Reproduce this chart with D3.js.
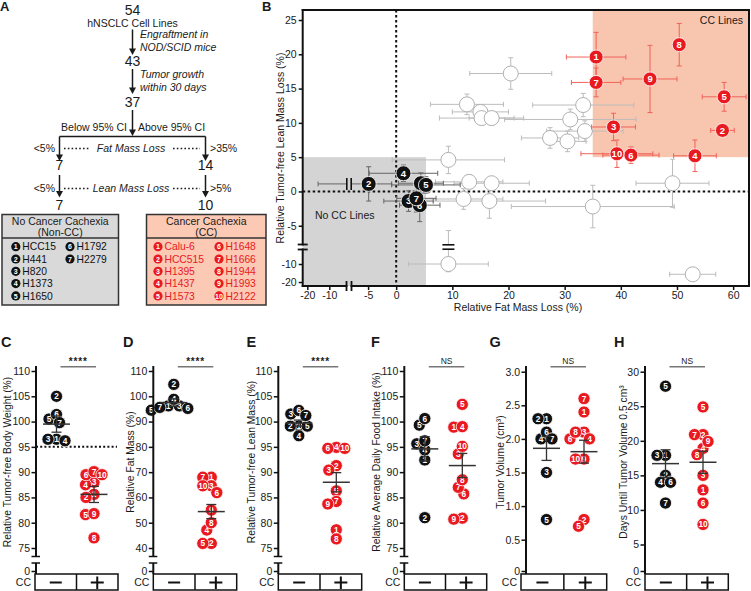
<!DOCTYPE html>
<html><head><meta charset="utf-8">
<script src="https://cdn.jsdelivr.net/npm/d3@7"></script>
<style>
body{margin:0;background:#fff;}
svg{display:block;font-family:Arial,"Liberation Sans",Helvetica,sans-serif;}
</style></head><body>
<svg id="chart" width="751" height="591"></svg>
<script>
// ================= DATA =================
// Panel A flow chart
const flowCounts = [54, 43, 37];
const flowSteps = [["Engraftment in", "NOD/SCID mice"], ["Tumor growth", "within 30 days"]];
const splitLabels = ["Below 95% CI", "Above 95% CI"];
const criteria = ["Fat Mass Loss", "Lean Mass Loss"];
const leftThresholds = ["<5%", "<5%"];
const rightThresholds = [">35%", ">5%"];
const leftCounts = [7, 7];
const rightCounts = [14, 10];
const nonCcLines = ["HCC15", "H441", "H820", "H1373", "H1650", "H1792", "H2279"];
const ccLines = ["Calu-6", "HCC515", "H1395", "H1437", "H1573", "H1648", "H1666", "H1944", "H1993", "H2122"];

// Panel B: relative fat mass loss (x) vs tumor-free lean mass loss (y), with errors
const ccX    = [35.6, 58.1, 38.7, 53.2, 58.4, 41.8, 35.6, 50.4, 45.2, 39.3];
const ccY    = [19.6, 8.9, 9.4, 5.2, 13.8, 5.3, 15.9, 21.4, 16.4, 5.5];
const ccXErr = [5.3, 2.1, 3.9, 3.8, 3.9, 5.0, 4.4, 0.6, 4.8, 6.4];
const ccYErr = [3.6, 0.6, 2.0, 2.3, 2.1, 1.2, 2.1, 3.1, 4.9, 2.0];
const nonCcX      = [4.4, -4.9, 2.2, 1.3, 5.3, 4.2, 3.6];
const nonCcY      = [1.2, 1.1, -1.4, 2.65, 0.95, -2.0, -1.0];
const nonCcXErrLo = [4.0, 10.2, 4.4, 6.1, 6.1, 3.6, 3.5];
const nonCcXErrHi = [4.0, 4.1, 4.4, 6.1, 6.1, 3.6, 3.5];
const nonCcYErr   = [1.5, 2.5, 1.5, 1.2, 1.2, 2.4, 2.0];
const otherX    = [20.4, 33.3, 31.0, 33.6, 27.4, 30.5, 12.6, 15.0, 15.2, 17.0, 13.0, 17.0, 49.2, 16.6, 35.0, 52.8, 9.3, 9.3, 12.0];
const otherY    = [17.2, 12.6, 10.5, 8.8, 7.8, 7.3, 12.7, 11.6, 10.7, 10.7, 1.4, 1.2, 1.2, -1.4, -2.2, -15.7, -10.0, 4.6, -1.1];
const otherXErr = [7.3, 9.0, 11.7, 6.8, 5.1, 3.3, 6.5, 5.0, 7.5, 4.0, 6.0, 6.7, 6.5, 10.0, 14.5, 4.1, 7.1, 10.0, 7.0];
const otherYErr = [2.3, 1.7, 1.5, 1.5, 1.5, 1.5, 1.5, 1.0, 1.0, 1.0, 1.0, 1.0, 3.5, 2.5, 3.1, 0.5, 4.3, 2.0, 1.5];
const bXTicks = [-20, -10, -5, 0, 10, 20, 30, 40, 50, 60];
const bYTicks = [-20, -10, -5, 0, 5, 10, 15, 20, 25];
const nonCcRegion = {xMax: 5.3, yMax: 5};
const ccRegion = {xMin: 35, yMin: 5};

// Panels C-H: values for cell lines 1..7 (non-CC) and 1..10 (CC)
const bodyNonCC = [96.5, 105.0, 96.5, 96.2, 100.5, 101.4, 99.8];
const bodyCC    = [85.6, 85.0, 88.0, 87.5, 81.6, 89.5, 90.1, 77.0, 81.8, 89.5];
const bodyMean = [99.5, 85.6], bodySem = [1.6, 1.6];
const fatNonCC = [96.2, 104.7, 96.2, 98.8, 94.5, 95.2, 95.6];
const fatCC    = [68.0, 41.8, 64.6, 47.1, 41.8, 61.9, 68.0, 50.0, 55.0, 64.6];
const fatMean = [97.5, 54.4], fatSem = [1.5, 2.8];
const leanNonCC = [99.1, 99.1, 101.5, 97.2, 99.1, 102.2, 101.2];
const leanCC    = [78.6, 91.3, 90.4, 94.9, 86.3, 94.7, 84.2, 76.8, 83.7, 94.7];
const leanMean = [99.7, 88.0], leanSem = [0.6, 1.9];
const foodNonCC = [92.4, 81.0, 95.6, 94.4, 99.3, 100.6, 96.2];
const foodCC    = [98.9, 80.9, 93.6, 99.0, 103.4, 85.7, 87.0, 88.5, 80.7, 95.1];
const foodMean = [94.6, 91.3], foodSem = [2.4, 2.4];
const volNonCC = [2.3, 2.3, 1.5, 2.0, 0.8, 2.1, 2.0];
const volCC    = [2.4, 0.8, 2.1, 2.0, 0.7, 2.0, 2.6, 2.1, 1.7, 1.7];
const volMean = [1.86, 1.81], volSem = [0.18, 0.17];
const daysNonCC = [17.9, 15.0, 17.9, 14.0, 27.9, 14.0, 11.0];
const daysCC    = [12.9, 20.9, 15.0, 18.9, 24.9, 11.0, 20.9, 18.0, 19.9, 7.9];
const daysMean = [16.7, 16.9], daysSem = [2.0, 1.6];
const pctTicks = [75, 80, 85, 90, 95, 100, 105, 110];
const fatTicks = [40, 50, 60, 70, 80, 90, 100, 110];
const volTicks = [0.5, 1.0, 1.5, 2.0, 2.5, 3.0];
const daysTicks = [5, 10, 15, 20, 25, 30];
const ccGroups = ["\u2212", "+"];

// ================= DRAWING =================
const RED = "#e8191f", BLACK = "#111", INK = "#1a1a1a";
const svg = d3.select("#chart");

function txt(g, x, y, s, o = {}) {
  const t = g.append("text").attr("x", x).attr("y", y).text(s)
    .attr("font-size", o.size || 10.5).attr("text-anchor", o.anchor || "start")
    .attr("fill", o.fill || INK);
  if (o.italic) t.attr("font-style", "italic");
  if (o.bold) t.attr("font-weight", "bold");
  if (o.ls) t.attr("letter-spacing", o.ls);
  return t;
}
function arrow(g, x, y1, y2) {
  g.append("line").attr("x1", x).attr("x2", x).attr("y1", y1).attr("y2", y2 - 5)
    .attr("stroke", INK).attr("stroke-width", 1.5);
  g.append("path").attr("d", `M${x - 3.5},${y2 - 6.5}L${x + 3.5},${y2 - 6.5}L${x},${y2}Z`).attr("fill", INK);
}
function marker(g, x, y, r, fill, label, fs) {
  g.append("circle").attr("cx", x).attr("cy", y).attr("r", r).attr("fill", fill)
    .attr("stroke", "#fff").attr("stroke-width", 0.8);
  txt(g, x, y + fs * 0.36, label, {size: fs, anchor: "middle", fill: "#fff", bold: true});
}

// ---------- Panel A ----------
const gA = svg.append("g");
txt(gA, 0, 10.5, "A", {size: 13, bold: true});
const cx = 132.5;
const countYs = [14.5, 65.5, 106.5];
flowCounts.forEach((c, i) => txt(gA, cx, countYs[i], c, {size: 14, anchor: "middle"}));
txt(gA, cx, 26.5, "hNSCLC Cell Lines", {anchor: "middle"});
const stepY = [[37.5, 50.5], [77.5, 90.5]];
flowSteps.forEach((s, i) => s.forEach((l, j) => txt(gA, 140, stepY[i][j], l, {italic: true})));
arrow(gA, cx, 29.5, 55);
arrow(gA, cx, 69, 94);
arrow(gA, cx, 110, 136);
txt(gA, 127, 131, splitLabels[0], {anchor: "end"});
txt(gA, 138, 131, splitLabels[1]);
const lx = 59.5, rx = 205.5;
gA.append("line").attr("x1", lx).attr("x2", rx).attr("y1", 136.5).attr("y2", 136.5).attr("stroke", INK).attr("stroke-width", 1.5);
const critY = [151.5, 191.5];
const arrowTop = [136.5, 175];
const countY2 = [170, 210];
criteria.forEach((c, i) => {
  arrow(gA, lx, arrowTop[i], i === 0 ? 161 : 197.5);
  arrow(gA, rx, arrowTop[i], i === 0 ? 161 : 197.5);
  txt(gA, 55, critY[i], leftThresholds[i], {anchor: "end"});
  txt(gA, 210, critY[i], rightThresholds[i]);
  txt(gA, 131, critY[i], c, {anchor: "middle", italic: true});
  [[64, 89], [173, 200]].forEach(([a, b]) => gA.append("line").attr("x1", a).attr("x2", b)
    .attr("y1", critY[i] - 3).attr("y2", critY[i] - 3).attr("stroke", INK)
    .attr("stroke-width", 1.6).attr("stroke-dasharray", "1.6,2.2"));
  txt(gA, lx, countY2[i], leftCounts[i], {size: 14, anchor: "middle"});
  txt(gA, rx, countY2[i], rightCounts[i], {size: 14, anchor: "middle"});
});
function lineBox(x0, x1, title, sub, names, fill, color, c1, c2) {
  const top = 214.5, bot = 305, div = 238;
  gA.append("rect").attr("x", x0).attr("y", top).attr("width", x1 - x0).attr("height", bot - top)
    .attr("fill", fill).attr("stroke", "#333").attr("stroke-width", 1.5);
  gA.append("line").attr("x1", x0).attr("x2", x1).attr("y1", div).attr("y2", div).attr("stroke", "#333").attr("stroke-width", 1.5);
  txt(gA, (x0 + x1) / 2, 224.5, title, {size: 10.5, anchor: "middle"});
  txt(gA, (x0 + x1) / 2, 235.5, sub, {size: 10.5, anchor: "middle"});
  names.forEach((n, i) => {
    const col = i < 5 ? 0 : 1, row = i % 5;
    const yc = 246.7 + row * 12.3;
    const mx = col === 0 ? c1 : c2;
    gA.append("circle").attr("cx", mx).attr("cy", yc).attr("r", 4.6).attr("fill", color);
    txt(gA, mx, yc + 2.6, i + 1, {size: 7, anchor: "middle", fill: "#fff", bold: true});
    txt(gA, mx + 6.5, yc + 3.7, n, {size: 10.3, fill: color});
  });
}
lineBox(2, 118.5, "No Cancer Cachexia", "(Non-CC)", nonCcLines, "#d9d9d9", BLACK, 15.8, 70);
lineBox(146.5, 266, "Cancer Cachexia", "(CC)", ccLines, "#fbc9b4", RED, 158, 219);

// ---------- Panel B ----------
const gB = svg.append("g");
const xB = d3.scaleLinear().domain([-22.1, -10, -8.4, 63]).range([302.7, 329.3, 349, 750]);
const yB = d3.scaleLinear().domain([-22.2, -10, -8.1, 26.4]).range([286, 264, 247, 10.4]);
const L = 302.7, R = 749, T = 10, Bt = 286;
txt(gB, 262, 10.5, "B", {size: 13, bold: true});
gB.append("rect").attr("x", L).attr("y", yB(nonCcRegion.yMax)).attr("width", xB(nonCcRegion.xMax) - L)
  .attr("height", Bt - yB(nonCcRegion.yMax)).attr("fill", "#d4d4d4");
gB.append("rect").attr("x", xB(ccRegion.xMin)).attr("y", T).attr("width", R - xB(ccRegion.xMin))
  .attr("height", yB(ccRegion.yMin) - T).attr("fill", "#f8c5ae");
txt(gB, 743, 24, "CC Lines", {size: 10.5, anchor: "end"});
txt(gB, 315, 218.5, "No CC Lines", {size: 10.5});
gB.append("line").attr("x1", xB(0)).attr("x2", xB(0)).attr("y1", T).attr("y2", Bt)
  .attr("stroke", "#111").attr("stroke-width", 2).attr("stroke-dasharray", "2.5,2.5");
gB.append("line").attr("x1", L).attr("x2", R).attr("y1", yB(0)).attr("y2", yB(0))
  .attr("stroke", "#111").attr("stroke-width", 2).attr("stroke-dasharray", "2.5,2.5");

const xBreak = xB(-8.4), yBreak = yB(-8.1);
function errBars(g, x, y, xl, xh, ye, color, cap) {
  const px = xB(x), py = yB(y), x1 = xB(x - xl), x2 = xB(x + xh), y1 = yB(y - ye), y2 = yB(y + ye);
  const ln = (a, b, c, d) => g.append("line").attr("x1", a).attr("y1", b).attr("x2", c).attr("y2", d)
    .attr("stroke", color).attr("stroke-width", 1);
  ln(x1, py, x2, py); ln(x1, py - cap, x1, py + cap); ln(x2, py - cap, x2, py + cap);
  ln(px, y1, px, y2); ln(px - cap, y1, px + cap, y1); ln(px - cap, y2, px + cap, y2);
  if (x1 < xBreak && x2 > xBreak) {
    g.append("rect").attr("x", xBreak - 2).attr("y", py - 6).attr("width", 4).attr("height", 12).attr("fill", "#d4d4d4");
    [-2.2, 2.2].forEach(d => g.append("line").attr("x1", xBreak + d).attr("x2", xBreak + d)
      .attr("y1", py - 6).attr("y2", py + 6).attr("stroke", "#111").attr("stroke-width", 1.6));
  }
  if (y1 > yBreak && y2 < yBreak) {
    g.append("rect").attr("x", px - 6).attr("y", yBreak - 2).attr("width", 12).attr("height", 4).attr("fill", "#fff");
    [-2.2, 2.2].forEach(d => g.append("line").attr("y1", yBreak + d).attr("y2", yBreak + d)
      .attr("x1", px - 6).attr("x2", px + 6).attr("stroke", "#111").attr("stroke-width", 1.6));
  }
}
otherX.forEach((x, i) => errBars(gB, x, otherY[i], otherXErr[i], otherXErr[i], otherYErr[i], "#bcbcbc", 2.5));
otherX.forEach((x, i) => gB.append("circle").attr("cx", xB(x)).attr("cy", yB(otherY[i])).attr("r", 7.5)
  .attr("fill", "#fff").attr("stroke", "#b0b0b0").attr("stroke-width", 1));
ccX.forEach((x, i) => errBars(gB, x, ccY[i], ccXErr[i], ccXErr[i], ccYErr[i], "#f0625a", 2.5));
nonCcX.forEach((x, i) => errBars(gB, x, nonCcY[i], nonCcXErrLo[i], nonCcXErrHi[i], nonCcYErr[i], "#666", 2.5));
ccX.forEach((x, i) => marker(gB, xB(x), yB(ccY[i]), 7, RED, i + 1, 9.5));
nonCcX.forEach((x, i) => marker(gB, xB(x), yB(nonCcY[i]), 7.5, BLACK, i + 1, 9.5));

// axes
const axL = gB.append("g").attr("transform", `translate(${L},0)`)
  .call(d3.axisLeft(yB).tickValues(bYTicks).tickSize(4).tickPadding(2).tickFormat(d => d));
const axB = gB.append("g").attr("transform", `translate(0,${Bt})`)
  .call(d3.axisBottom(xB).tickValues(bXTicks).tickSize(4).tickPadding(2).tickFormat(d => d));
[axL, axB].forEach(a => {
  a.select(".domain").remove();
  a.selectAll("line").attr("stroke", "#111").attr("stroke-width", 1.5);
  a.selectAll("text").attr("font-size", 10.5).attr("fill", INK).attr("font-family", null);
});
const frame = (a, b, c, d) => gB.append("line").attr("x1", a).attr("y1", b).attr("x2", c).attr("y2", d)
  .attr("stroke", "#111").attr("stroke-width", 2).attr("stroke-linecap", "square");
frame(L, T, L, yBreak - 2.5); frame(L, yBreak + 2.5, L, Bt);
frame(L, Bt, xBreak - 2.5, Bt); frame(xBreak + 2.5, Bt, R, Bt);
frame(L, T, R, T); frame(R, T, R, Bt);
[-2.5, 2.5].forEach(d => {
  gB.append("line").attr("x1", L - 5).attr("x2", L + 5).attr("y1", yBreak + d).attr("y2", yBreak + d).attr("stroke", "#111").attr("stroke-width", 1.8);
  gB.append("line").attr("y1", Bt - 5).attr("y2", Bt + 5).attr("x1", xBreak + d).attr("x2", xBreak + d).attr("stroke", "#111").attr("stroke-width", 1.8);
});
txt(gB, 518, 311, "Relative Fat Mass Loss (%)", {size: 10.5, anchor: "middle"});
txt(gB, 0, 0, "Relative Tumor-free Lean Mass Loss (%)", {size: 10.5, anchor: "middle"})
  .attr("transform", `translate(284,${(T + Bt) / 2}) rotate(-90)`);

// ---------- Panels C-H ----------
const panels = [
  {letter: "C", ax: 36, lx: 1, tx: 11, boxL: 35, boxW: 83, title: "Relative Tumor-free Body Weight (%)", non: bodyNonCC, cc: bodyCC, mean: bodyMean, sem: bodySem, ticks: pctTicks, sig: "****", ref: 95, kind: "pct"},
  {letter: "D", ax: 153.3, lx: 123, tx: 134, boxL: 153.3, boxW: 83.4, title: "Relative Fat Mass (%)", non: fatNonCC, cc: fatCC, mean: fatMean, sem: fatSem, ticks: fatTicks, sig: "****", kind: "fat"},
  {letter: "E", ax: 278.3, lx: 246.5, tx: 255, boxL: 278.3, boxW: 83.4, title: "Relative Tumor-free Lean Mass (%)", non: leanNonCC, cc: leanCC, mean: leanMean, sem: leanSem, ticks: pctTicks, sig: "****", kind: "pct"},
  {letter: "F", ax: 404.3, lx: 371, tx: 380, boxL: 404.3, boxW: 82.4, title: "Relative Average Daily Food Intake (%)", non: foodNonCC, cc: foodCC, mean: foodMean, sem: foodSem, ticks: pctTicks, sig: "NS", kind: "pct"},
  {letter: "G", ax: 526, lx: 489.5, tx: 503.5, boxL: 521, boxW: 85.7, title: "Tumor Volume (cm\u00b3)", non: volNonCC, cc: volCC, mean: volMean, sem: volSem, ticks: volTicks, sig: "NS", kind: "vol"},
  {letter: "H", ax: 645, lx: 614, tx: 627, boxL: 645, boxW: 83.3, title: "Days Until Tumor Volume 0.5 cm\u00b3", non: daysNonCC, cc: daysCC, mean: daysMean, sem: daysSem, ticks: daysTicks, sig: "NS", kind: "days"}
];

function dodge(vals, y, cxp, minD) {
  const idx = d3.range(vals.length).sort((a, b) => vals[b] - vals[a]);
  const out = new Array(vals.length), placed = [];
  for (const i of idx) {
    const py = y(vals[i]);
    let px = cxp;
    for (let k = 0; k < 160; k++) {
      const off = k === 0 ? 0 : (k % 2 ? -1 : 1) * Math.ceil(k / 2) * 0.5;
      if (placed.every(p => Math.hypot(p.x - (cxp + off), p.y - py) >= minD)) { px = cxp + off; break; }
    }
    placed.push({x: px, y: py});
    out[i] = {x: px, y: py};
  }
  return out;
}

panels.forEach(p => {
  const g = svg.append("g");
  let y;
  if (p.kind === "pct") y = d3.scaleLinear().domain([75, 110]).range([548, 371]);
  else if (p.kind === "fat") y = d3.scaleLinear().domain([40, 110]).range([548, 371]);
  else if (p.kind === "vol") y = d3.scaleLinear().domain([0, 3]).range([573.3, 371.7]);
  else y = d3.scaleLinear().domain([0, 5, 30]).range([572, 544.5, 371.7]);
  const xc = d3.scalePoint().domain(ccGroups).range([p.ax + 20.5, p.ax + 58]);
  const axTop = 366;
  txt(g, p.lx, 347, p.letter, {size: 14.5, bold: true});
  if (p.ref !== undefined) g.append("line").attr("x1", p.ax).attr("x2", p.boxL + p.boxW - 1).attr("y1", y(p.ref)).attr("y2", y(p.ref))
    .attr("stroke", "#111").attr("stroke-width", 2).attr("stroke-dasharray", "2,2.2");
  const groups = [p.non, p.cc];
  groups.forEach((vals, gi) => {
    const pos = dodge(vals, y, xc(ccGroups[gi]), 8.5);
    vals.forEach((v, i) => marker(g, pos[i].x, pos[i].y, 6.1, gi ? RED : BLACK, i + 1, 8.3));
  });
  groups.forEach((vals, gi) => {
    const c = xc(ccGroups[gi]), m = y(p.mean[gi]), lo = y(p.mean[gi] - p.sem[gi]), hi = y(p.mean[gi] + p.sem[gi]);
    const ln = (a, b, c2, d, w) => g.append("line").attr("x1", a).attr("y1", b).attr("x2", c2).attr("y2", d)
      .attr("stroke", "#333").attr("stroke-width", w);
    ln(c - 13.5, m, c + 13.5, m, 1.5);
    ln(c, lo, c, hi, 1.3);
    ln(c - 5, lo, c + 5, lo, 1.3); ln(c - 5, hi, c + 5, hi, 1.3);
  });
  g.append("line").attr("x1", xc(ccGroups[0]) + 4).attr("x2", xc(ccGroups[1]) + 2).attr("y1", 366.7).attr("y2", 366.7)
    .attr("stroke", "#777").attr("stroke-width", 1.5);
  const sx = (xc(ccGroups[0]) + xc(ccGroups[1])) / 2 + 3;
  if (p.sig === "NS") txt(g, sx, 363.5, "NS", {size: 8.5, anchor: "middle"});
  else txt(g, sx, 365, p.sig, {size: 10, anchor: "middle", bold: true, ls: 0.8});
  const ax = g.append("g").attr("transform", `translate(${p.ax},0)`)
    .call(d3.axisLeft(y).tickValues(p.ticks).tickSize(4.5).tickPadding(1.5)
      .tickFormat(p.kind === "vol" ? d3.format(".1f") : d => d));
  ax.select(".domain").remove();
  ax.selectAll("line").attr("stroke", "#111").attr("stroke-width", 1.5);
  ax.selectAll("text").attr("font-size", 10.5).attr("fill", INK).attr("font-family", null);
  const vl = (a, b) => g.append("line").attr("x1", p.ax).attr("x2", p.ax).attr("y1", a).attr("y2", b)
    .attr("stroke", "#111").attr("stroke-width", 2);
  const zeroY = 571.5;
  if (p.kind === "pct" || p.kind === "fat") {
    vl(axTop, 556.5); vl(563, 574);
    [556.5, 563].forEach(yy => g.append("line").attr("x1", p.ax - 4.5).attr("x2", p.ax + 4).attr("y1", yy).attr("y2", yy)
      .attr("stroke", "#111").attr("stroke-width", 1.5));
  } else vl(axTop, 574);
  g.append("line").attr("x1", p.ax - 4.5).attr("x2", p.ax).attr("y1", zeroY).attr("y2", zeroY).attr("stroke", "#111").attr("stroke-width", 1.5);
  txt(g, p.ax - 6, zeroY + 3.8, "0", {size: 10.5, anchor: "end"});
  txt(g, 0, 0, p.title, {size: 10.3, anchor: "middle"}).attr("transform", `translate(${p.tx},462) rotate(-90)`);
  g.append("rect").attr("x", p.boxL).attr("y", 574).attr("width", p.boxW).attr("height", 16)
    .attr("fill", "none").attr("stroke", "#111").attr("stroke-width", 1.5);
  const mid = p.boxL + p.boxW / 2;
  g.append("line").attr("x1", mid).attr("x2", mid).attr("y1", 574).attr("y2", 590).attr("stroke", "#111").attr("stroke-width", 1.5);
  txt(g, p.boxL - 4, 586, "CC", {size: 10.5, anchor: "end"});
  const c0 = p.boxL + p.boxW / 4, c1 = p.boxL + 3 * p.boxW / 4;
  g.append("line").attr("x1", c0 - 6).attr("x2", c0 + 6).attr("y1", 582.5).attr("y2", 582.5).attr("stroke", "#111").attr("stroke-width", 2);
  g.append("line").attr("x1", c1 - 6.5).attr("x2", c1 + 6.5).attr("y1", 582.5).attr("y2", 582.5).attr("stroke", "#111").attr("stroke-width", 2);
  g.append("line").attr("x1", c1).attr("x2", c1).attr("y1", 576.5).attr("y2", 589).attr("stroke", "#111").attr("stroke-width", 2);
});
</script>
</body></html>
